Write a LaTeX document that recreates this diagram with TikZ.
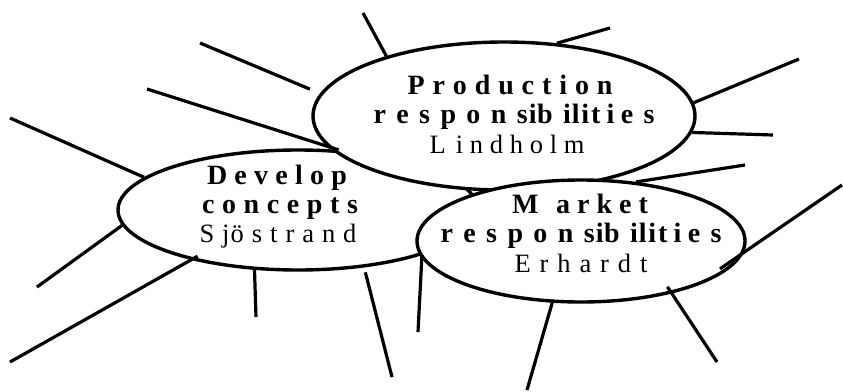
\documentclass[tikz,border=0pt]{standalone}
\usepackage{fontspec}
\setmainfont{Liberation Serif}
\usetikzlibrary{shapes.geometric}

% stretchable letter gaps: \lsp is one unit, \lsw{k} is k units
\newcommand\lsp{\hspace{0pt plus 1fil}}
\newcommand\lsw[1]{\hspace{0pt plus #1fil}}
% a line of letters spread over a fixed width
\newcommand\spread[2]{\makebox[#1pt][s]{#2}}
\newcommand\respword{r\lsp e\lsp s\lsp p\lsp o\lsp n\lsp s\lsw{0.1}i\lsw{0.05}b\lsp i\lsw{0.1}l\lsw{0.15}i\lsw{0.2}t\lsw{0.6}i\lsw{0.6}e\lsp s}

\begin{document}
\begin{tikzpicture}[x=1pt,y=-1pt,
  bubble/.style={ellipse, draw, fill=white, line width=3.4pt, inner sep=0pt},
  spoke/.style={line width=3.2pt},
  title/.style={inner sep=0pt, anchor=base, font=\fontsize{28}{30}\selectfont\bfseries},
  person/.style={inner sep=0pt, anchor=base, font=\fontsize{26.5}{30}\selectfont}]
\useasboundingbox (0,0) rectangle (843,391);

% the three bubbles, back to front
\node[bubble, minimum width=360pt, minimum height=120pt] (D) at (298,210) {};
\node[bubble, minimum width=382pt, minimum height=148pt] (P) at (504,116) {};
\node[bubble, minimum width=328pt, minimum height=122pt] (M) at (581,241) {};

% bubble texts
\node[title]  (pt1) at (510,94)  {\spread{205}{P\lsp r\lsp o\lsp d\lsp u\lsp c\lsp t\lsp i\lsp o\lsp n}};
\node[title]  (pt2) at (514,123) {\spread{281}{\respword}};
\node[person] (pt3) at (507,153) {\spread{155}{L\lsw{1.5}i\lsp n\lsp d\lsp h\lsp o\lsp l\lsp m}};

\node[title]  (dt1) at (277,184) {\spread{140}{D\lsp e\lsp v\lsp e\lsp l\lsp o\lsp p}};
\node[title]  (dt2) at (280,213) {\spread{156}{c\lsp o\lsp n\lsp c\lsp e\lsp p\lsp t\lsp s}};
\node[person] (dt3) at (278,242) {\spread{157}{S\lsp j\lsw{0.15}ö\lsp s\lsp t\lsp r\lsp a\lsp n\lsp d}};

\node[title]  (mt1) at (580,213) {\spread{136}{M\lsw{2.5}a\lsp r\lsp k\lsp e\lsp t}};
\node[title]  (mt2) at (581,242) {\spread{281}{\respword}};
\node[person] (mt3) at (581,272) {\spread{133}{E\lsp r\lsp h\lsp a\lsp r\lsp d\lsp t}};

% free ends of the spokes
\coordinate (p1) at (363,13);
\coordinate (p2) at (610,28);
\coordinate (p3) at (799,59);
\coordinate (p4) at (773,135);
\coordinate (p5) at (200,43);
\coordinate (d1) at (147,89);
\coordinate (d2) at (10,118);
\coordinate (d3) at (37,287);
\coordinate (d4) at (10,362);
\coordinate (d5) at (256,317);
\coordinate (d6) at (392,377);
\coordinate (d7) at (418,332);
\coordinate (m1) at (745,165);
\coordinate (m2) at (842,185);
\coordinate (m3) at (717,362);
\coordinate (m4) at (527,390);

% spokes
\draw[spoke] (P.153) -- (p1);
\draw[spoke] (P.54.4) -- (p2);
\draw[spoke] (P.4) -- (p3);
\draw[spoke] (P.-5.9) -- (p4);
\draw[spoke, shorten <=11pt] (P.173.6) -- (p5);

\draw[spoke] (D.56.5) -- (d1);
\draw[spoke] (D.168.9) -- (d2);
\draw[spoke] (D.185.1) -- (d3);
\draw[spoke, shorten <=-7.5pt] (D.205.6) -- (d4);
\draw[spoke] (D.234.2) -- (d5);
\draw[spoke, shorten <=5pt] (D.-41.4) -- (d6);
\draw[spoke] (D.-20.4) -- (d7);

\draw[spoke] (M.47) -- (m1);
\draw[spoke, shorten <=-29pt] (M.-4.6) -- (m2);
\draw[spoke, shorten <=-8pt] (M.-30.8) -- (m3);
\draw[spoke] (M.245.8) -- (m4);
\end{tikzpicture}
\end{document}
